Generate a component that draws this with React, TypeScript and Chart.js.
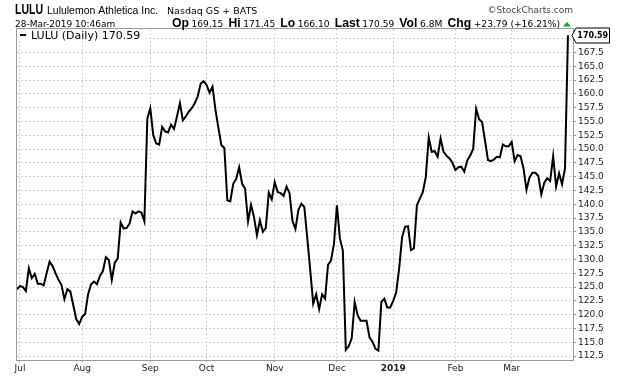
import React, { useEffect, useRef } from 'react';
import { Chart, registerables } from 'chart.js';

Chart.register(...registerables);

// ---- data ----
const START_DATE = '2018-06-29';
const END_DATE = '2019-03-28';
const HOLIDAYS = ['2018-07-04', '2018-09-03', '2018-11-22', '2018-12-05', '2018-12-25', '2019-01-01', '2019-01-21', '2019-02-18'];
const MONTH_NAMES = ['Jan', 'Feb', 'Mar', 'Apr', 'May', 'Jun', 'Jul', 'Aug', 'Sep', 'Oct', 'Nov', 'Dec'];

const PRICES = [
  124.6, 125.2, 125.0, 124.3, 128.4, 126.6, 127.4, 125.6, 125.6, 125.3,
  127.5, 129.6, 128.8, 127.5, 126.3, 125.4, 122.8, 124.6, 124.2, 121.7,
  119.2, 118.3, 119.6, 120.1, 123.7, 125.5, 126.0, 125.5, 127.0, 127.9,
  130.4, 129.9, 126.3, 129.4, 130.2, 136.7, 135.6, 135.7, 136.5, 138.7,
  138.3, 138.7, 138.5, 136.9, 155.5, 157.4, 152.5, 151.0, 150.8, 154.0,
  153.2, 153.0, 154.4, 153.6, 155.9, 158.3, 155.2, 155.9, 156.8, 157.4,
  158.3, 159.5, 161.8, 162.3, 161.6, 160.2, 161.3, 157.1, 153.8, 150.7,
  150.2, 140.7, 140.5, 143.7, 144.6, 146.7, 143.7, 142.8, 136.9, 139.9,
  137.7, 134.4, 137.1, 135.0, 135.7, 142.1, 140.9, 144.0, 142.2, 142.0,
  141.5, 143.2, 142.0, 137.0, 135.5, 139.0, 140.1, 139.5, 133.8, 128.0,
  122.0, 123.7, 121.0, 123.7, 122.9, 129.0, 129.8, 132.8, 139.8, 133.8,
  131.6, 113.6, 114.3, 115.7, 122.3, 119.9, 118.9, 118.9, 118.9, 115.9,
  115.1, 113.8, 113.5, 122.3, 122.9, 121.3, 121.3, 122.5, 124.0, 128.3,
  134.0, 135.9, 136.0, 131.7, 132.0, 139.8, 141.0, 142.2, 144.9, 152.1,
  149.5, 149.6, 148.6, 151.9, 149.5, 148.8, 148.3, 147.5, 146.2, 146.7,
  146.8, 145.9, 147.9, 148.8, 150.0, 157.3, 155.4, 154.9, 151.5, 148.0,
  147.8, 148.1, 148.6, 148.5, 150.8, 150.5, 150.5, 151.3, 147.8, 148.9,
  148.7, 146.5, 142.6, 144.8, 145.7, 145.7, 145.1, 141.8, 143.9, 144.7,
  144.2, 148.7, 143.2, 145.6, 143.6, 146.5, 170.59,
];

const Y_MIN = 111.78;
const Y_MAX = 171.74;
const Y_STEP = 2.5;
const X_MAX_INDEX = 187.7;

const SYMBOL = 'LULU';
const COMPANY = 'Lululemon Athletica Inc.';
const EXCHANGE = 'Nasdaq GS + BATS';
const TIMESTAMP = '28-Mar-2019 10:46am';
const COPYRIGHT = '\u00A9StockCharts.com';
const QUOTE_LABELS = ['Op', 'Hi', 'Lo', 'Last', 'Vol', 'Chg'];
const QUOTE_VALUES = ['169.15', '171.45', '166.10', '170.59', '6.8M', '+23.79 (+16.21%)'];
const LEGEND_TEXT = 'LULU (Daily) 170.59';
const LAST_PRICE = 170.59;

// ---- derived tables ----
function tradingDates(): Date[] {
  const out: Date[] = [];
  const hol = new Set(HOLIDAYS);
  const d = new Date(START_DATE + 'T00:00:00Z');
  const end = new Date(END_DATE + 'T00:00:00Z');
  while (d <= end) {
    const wd = d.getUTCDay();
    const iso = d.toISOString().slice(0, 10);
    if (wd !== 0 && wd !== 6 && !hol.has(iso)) out.push(new Date(d.getTime()));
    d.setUTCDate(d.getUTCDate() + 1);
  }
  return out;
}

const DATES = tradingDates();
const MONTH_TICKS: { index: number; label: string; bold: boolean }[] = [];
DATES.forEach((d, i) => {
  if (i > 0 && d.getUTCMonth() !== DATES[i - 1].getUTCMonth()) {
    const m = d.getUTCMonth();
    MONTH_TICKS.push({ index: i, label: m === 0 ? String(d.getUTCFullYear()) : MONTH_NAMES[m], bold: m === 0 });
  }
});

function scaledText(ctx: CanvasRenderingContext2D, text: string, x: number, y: number, sx: number): number {
  ctx.save();
  ctx.translate(x, y);
  ctx.scale(sx, 1);
  ctx.fillText(text, 0, 0);
  const w = ctx.measureText(text).width * sx;
  ctx.restore();
  return w;
}

const LABEL_FONT = 'bold 12px "Liberation Sans", sans-serif';
const VALUE_FONT = '9px "DejaVu Sans"';

const decorPlugin = {
  id: 'decor',
  beforeDraw(chart: any) {
    const ctx = chart.ctx;
    ctx.save();
    ctx.fillStyle = '#ffffff';
    ctx.fillRect(0, 0, chart.width, chart.height);
    ctx.restore();
  },
  afterDraw(chart: any) {
    const ctx: CanvasRenderingContext2D = chart.ctx;
    const a = chart.chartArea;
    ctx.save();
    // plot border
    ctx.strokeStyle = '#9a9a9a';
    ctx.lineWidth = 1;
    ctx.strokeRect(a.left - 0.5, a.top - 0.5, a.right - a.left + 1, a.bottom - a.top + 1);

    // legend box
    ctx.fillStyle = '#ffffff';
    ctx.fillRect(a.left, a.top, 128, 12);
    ctx.fillStyle = '#000000';
    ctx.fillRect(a.left + 3, a.top + 5, 6, 2);
    ctx.font = '11px "DejaVu Sans"';
    ctx.textBaseline = 'alphabetic';
    ctx.textAlign = 'left';
    ctx.fillText(LEGEND_TEXT, a.left + 14, a.top + 9.5);

    // header row 1
    ctx.fillStyle = '#000000';
    ctx.font = 'bold 14px "Liberation Sans", sans-serif';
    scaledText(ctx, SYMBOL, 15, 14, 0.75);
    ctx.font = '11.5px "Liberation Sans", sans-serif';
    scaledText(ctx, COMPANY, 47, 14, 0.91);
    ctx.font = '9.5px "DejaVu Sans"';
    ctx.fillText(EXCHANGE, 167, 14);

    ctx.fillStyle = '#444444';
    ctx.font = '9px "DejaVu Sans"';
    ctx.textAlign = 'right';
    ctx.fillText(COPYRIGHT, 573, 13);
    ctx.textAlign = 'left';

    // header row 2
    ctx.fillStyle = '#000000';
    ctx.font = '9px "DejaVu Sans"';
    ctx.fillText(TIMESTAMP, 15, 27);

    // quote row, fitted into its span
    const rowStart = 172;
    const rowEnd = 560;
    let natural = 0;
    QUOTE_LABELS.forEach((lab, i) => {
      ctx.font = LABEL_FONT;
      natural += ctx.measureText(lab).width + 2.5;
      ctx.font = VALUE_FONT;
      natural += ctx.measureText(QUOTE_VALUES[i]).width + (i < QUOTE_LABELS.length - 1 ? 5 : 0);
    });
    const sx = (rowEnd - rowStart) / natural;
    ctx.save();
    ctx.translate(rowStart, 27);
    ctx.scale(sx, 1);
    let x = 0;
    QUOTE_LABELS.forEach((lab, i) => {
      ctx.font = LABEL_FONT;
      ctx.fillText(lab, x, 0);
      x += ctx.measureText(lab).width + 2.5;
      ctx.font = VALUE_FONT;
      ctx.fillText(QUOTE_VALUES[i], x, 0);
      x += ctx.measureText(QUOTE_VALUES[i]).width + 5;
    });
    ctx.restore();

    // up triangle
    ctx.fillStyle = '#1f9e3a';
    ctx.beginPath();
    ctx.moveTo(rowEnd + 3, 26.5);
    ctx.lineTo(rowEnd + 11, 26.5);
    ctx.lineTo(rowEnd + 7, 22);
    ctx.closePath();
    ctx.fill();

    // last price box on the axis
    const yScale = chart.scales.y;
    const py = Math.round(yScale.getPixelForValue(LAST_PRICE)) + 0.5;
    const bl = a.right + 1;
    ctx.beginPath();
    ctx.moveTo(bl - 2, py);
    ctx.lineTo(bl + 2, py - 7.5);
    ctx.lineTo(609.5, py - 7.5);
    ctx.lineTo(609.5, py + 7.5);
    ctx.lineTo(bl + 2, py + 7.5);
    ctx.closePath();
    ctx.fillStyle = '#ffffff';
    ctx.fill();
    ctx.strokeStyle = '#000000';
    ctx.lineWidth = 1;
    ctx.stroke();
    ctx.fillStyle = '#000000';
    ctx.font = 'bold 8px "DejaVu Sans"';
    ctx.textBaseline = 'middle';
    ctx.textAlign = 'center';
    ctx.fillText(LAST_PRICE.toFixed(2), (bl + 2 + 609.5) / 2, py + 0.5);
    ctx.restore();
  },
};

export default function App() {
  const ref = useRef<HTMLCanvasElement | null>(null);

  useEffect(() => {
    if (!ref.current) return;
    const tickMap = new Map<number, { label: string; bold: boolean }>();
    MONTH_TICKS.forEach((t) => tickMap.set(t.index, t));
    const points = PRICES.map((v, i) => ({ x: i, y: v }));

    const chart = new Chart(ref.current, {
      type: 'line',
      data: {
        datasets: [
          {
            label: SYMBOL,
            data: points,
            borderColor: '#000000',
            borderWidth: 2,
            pointRadius: 0,
            tension: 0,
            fill: false,
          },
        ],
      },
      options: {
        animation: false,
        responsive: false,
        maintainAspectRatio: false,
        devicePixelRatio: 1,
        layout: { padding: { left: 17, top: 29, right: 0, bottom: 0 } },
        plugins: { legend: { display: false }, tooltip: { enabled: false } },
        scales: {
          x: {
            type: 'linear',
            min: 0,
            max: X_MAX_INDEX,
            afterBuildTicks: (s: any) => {
              s.ticks = MONTH_TICKS.map((t) => ({ value: t.index }));
            },
            afterFit: (s: any) => {
              s.height = 16;
            },
            ticks: {
              autoSkip: false,
              maxRotation: 0,
              padding: 1,
              color: '#222222',
              callback: (v: any) => (tickMap.get(v) ? tickMap.get(v)!.label : ''),
              font: (c: any) => ({
                family: 'DejaVu Sans',
                size: 9,
                weight: c.tick && tickMap.get(c.tick.value) && tickMap.get(c.tick.value)!.bold ? 'bold' : 'normal',
              }),
            },
            grid: { color: '#d0d0d0', drawTicks: true, tickLength: 2, tickColor: '#9a9a9a' },
            border: { display: false, dash: [2, 2] },
          },
          y: {
            type: 'linear',
            position: 'right',
            min: Y_MIN,
            max: Y_MAX,
            afterBuildTicks: (s: any) => {
              s.ticks = s.ticks.filter((t: any) => t.value >= s.min && t.value <= s.max);
            },
            afterFit: (s: any) => {
              s.width = 47;
            },
            ticks: {
              stepSize: Y_STEP,
              includeBounds: false,
              padding: 2,
              color: '#222222',
              font: { family: 'DejaVu Sans', size: 9 },
              callback: (v: any) => Number(v).toFixed(1),
            },
            grid: { color: '#d0d0d0', drawTicks: true, tickLength: 3, tickColor: '#9a9a9a' },
            border: { display: false, dash: [2, 2] },
          },
        },
      },
      plugins: [decorPlugin],
    } as any);
    return () => chart.destroy();
  }, []);

  return (
    <div style={{ position: 'fixed', left: 0, top: 0, width: 620, height: 376, background: '#fff' }}>
      <canvas ref={ref} width={620} height={376} style={{ width: 620, height: 376, display: 'block' }} />
    </div>
  );
}
